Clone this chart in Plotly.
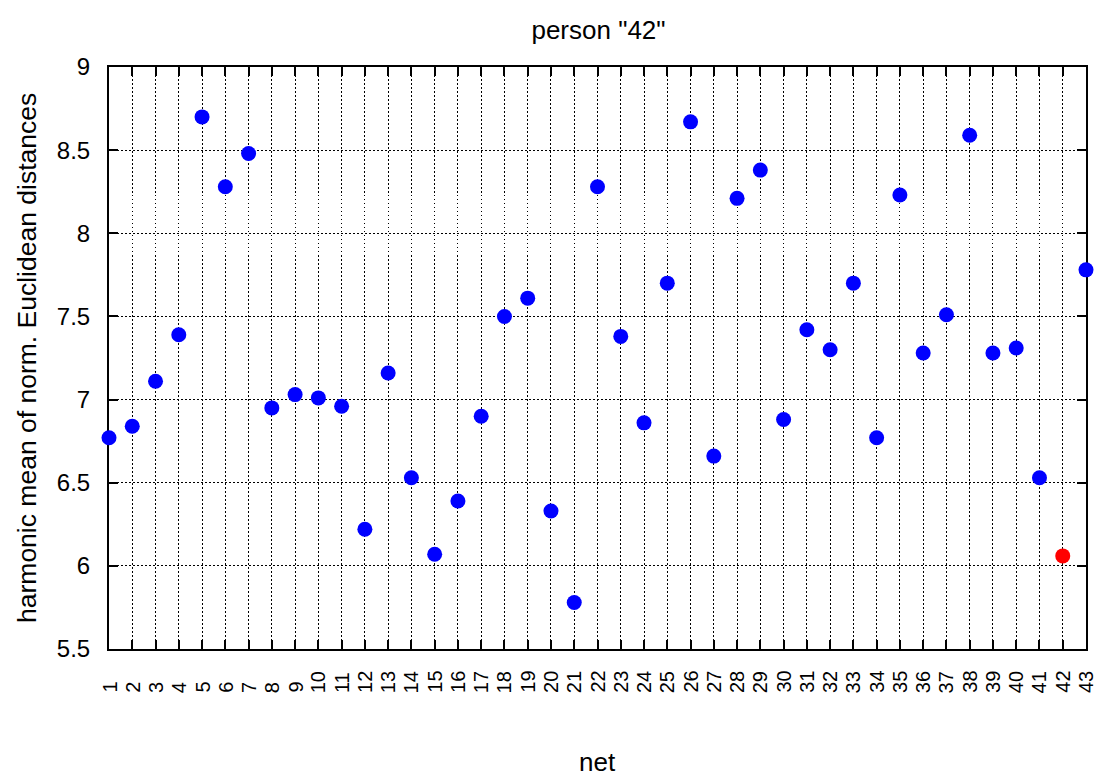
import plotly.graph_objects as go

nets = list(range(1, 44))
values = [6.77, 6.84, 7.11, 7.39, 8.70, 8.28, 8.48, 6.95, 7.03, 7.01,
          6.96, 6.22, 7.16, 6.53, 6.07, 6.39, 6.90, 7.50, 7.61, 6.33,
          5.78, 8.28, 7.38, 6.86, 7.70, 8.67, 6.66, 8.21, 8.38, 6.88,
          7.42, 7.30, 7.70, 6.77, 8.23, 7.28, 7.51, 8.59, 7.28, 7.31,
          6.53, 6.06, 7.78]
highlight_net = 42
x_tick_labels = [str(n) for n in nets]
y_tick_vals = [5.5, 6, 6.5, 7, 7.5, 8, 8.5, 9]
y_tick_labels = ["5.5", "6", "6.5", "7", "7.5", "8", "8.5", "9"]

title_text = 'person "42"'
x_title = "net"
y_title = "harmonic mean of norm. Euclidean distances"

FONT = "Liberation Sans, Arial, Helvetica, sans-serif"
W, H = 1099, 777
L, R, T, B = 109, 11, 67, 128
plot_h = H - T - B
plot_w = W - L - R

colors = ["#ff0000" if n == highlight_net else "#0000ff" for n in nets]

fig = go.Figure()
fig.add_trace(go.Scatter(
    x=nets, y=values, mode="markers",
    marker=dict(size=15, color=colors, line=dict(width=0)),
    cliponaxis=False, showlegend=False, hoverinfo="x+y",
))

axis_common = dict(
    showline=True, linecolor="black", linewidth=2, mirror="allticks",
    ticks="inside", ticklen=9, tickwidth=1.5, tickcolor="black",
    showgrid=True, gridcolor="black", gridwidth=1.2, griddash="1.5px,2.5px",
    zeroline=False, layer="below traces",
)

fig.update_layout(
    width=W, height=H,
    margin=dict(l=L, r=R, t=T, b=B, pad=0),
    paper_bgcolor="white", plot_bgcolor="white",
    font=dict(family=FONT, color="black"),
    title=dict(text=title_text, x=(L + plot_w / 2) / W, xanchor="center",
               y=1 - 30 / H, yanchor="middle", yref="container",
               font=dict(size=26, family=FONT, color="black")),
    xaxis=dict(range=[1, 43], tickmode="array", tickvals=nets,
               showticklabels=False, **axis_common),
    yaxis=dict(range=[5.5, 9], tickmode="array", tickvals=y_tick_vals,
               ticktext=y_tick_labels, tickfont=dict(size=24, family=FONT),
               ticklabelstandoff=12, **axis_common),
)

# rotated x tick labels, starting at a fixed baseline below the axis (gnuplot style)
for n, lab in zip(nets, x_tick_labels):
    fig.add_annotation(
        x=n, xref="x", y=0, yref="paper", yshift=-(695 - (H - B)),
        text=lab, textangle=-90, showarrow=False,
        xanchor="center", yanchor="bottom",
        font=dict(size=20, family=FONT, color="black"),
    )

fig.add_annotation(
    x=0.5, xref="paper", y=0, yref="paper", yshift=-(762 - (H - B)),
    text=x_title, showarrow=False, xanchor="center", yanchor="middle",
    font=dict(size=26, family=FONT, color="black"),
)
fig.add_annotation(
    x=0, xref="paper", xshift=-(L - 27), y=0.5, yref="paper",
    text=y_title, textangle=-90, showarrow=False,
    xanchor="center", yanchor="middle",
    font=dict(size=26.5, family=FONT, color="black"),
)

fig.write_html("out.html")
